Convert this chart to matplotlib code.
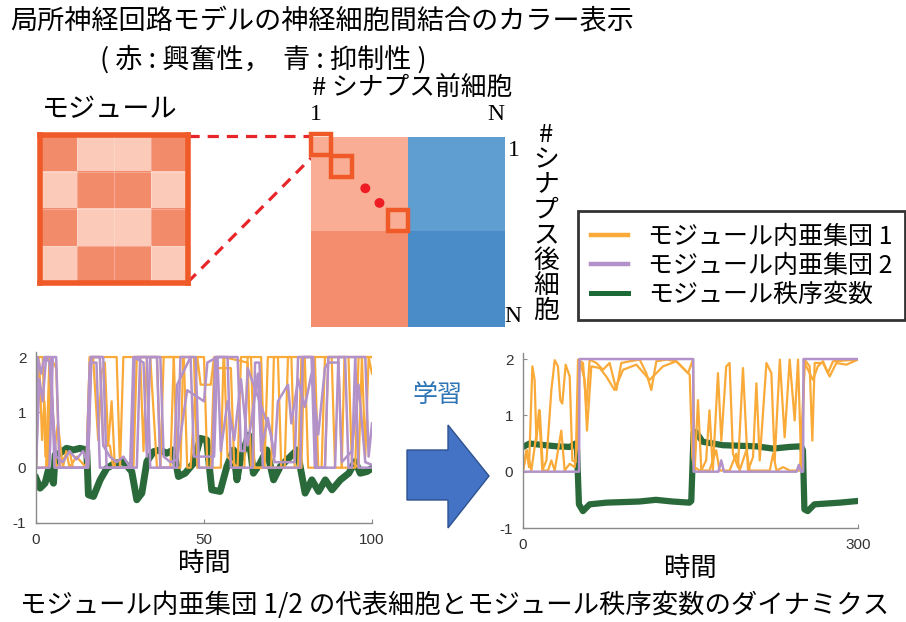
import matplotlib
matplotlib.use("Agg")
import matplotlib.pyplot as plt
from matplotlib.colors import ListedColormap, to_rgb
from matplotlib.lines import Line2D
from matplotlib.patches import Circle, Polygon, Rectangle

plt.rcParams["font.family"] = ["Noto Sans CJK JP", "DejaVu Sans"]
plt.rcParams["axes.unicode_minus"] = False

W, H = 906, 622

# --- connectivity diagram ---------------------------------------------------
module_pattern = [[1, 0, 0, 1],
                  [0, 1, 1, 0],
                  [1, 0, 0, 1],
                  [0, 1, 1, 0]]
module_colors = ["#fccab8", "#f28b6a"]
conn_colors = [["#f9ad95", "#5f9ed0"],
               ["#f48d6d", "#4a8cc7"]]

# --- left panel: before learning (t = 0..100) --------------------------------
l_or1_t = [0, 0.8, 2, 2.8, 3.5, 4.3, 6, 7, 15.5, 16.3, 24, 25, 28.5, 29.3, 41, 42, 43, 43.8, 50, 51,
           55, 55.8, 63, 64, 70, 70.8, 76, 77, 79, 79.8, 88, 89, 91, 91.8, 97, 98, 99, 100]
l_or1_v = [0, 2, 2, 0.2, 0.3, 2, 1.8, 0, 0, 2, 2, 0, 0, 2, 2, 0, 0, 2, 2, 0,
           0, 2, 1.9, 0, 0, 2, 2, 0, 0, 2, 2, 0, 0, 2, 2, 0.2, 2, 1.7]
l_or2_t = [0, 1, 1.8, 2.5, 3.5, 4.5, 5.5, 6.5, 8, 9, 10, 12, 15, 16, 17, 18.5, 19.5, 20.5, 21.5, 22.5,
           23.5, 25, 26, 31, 32, 33, 34, 36, 37, 38, 44, 45, 46, 48, 49, 52, 53, 56, 57, 60,
           61, 64, 65, 68, 69, 72, 73, 78, 79, 83, 84, 86, 87, 93, 94, 96, 97, 100]
l_or2_v = [0, 1.9, 0.5, 1.2, 0, 1.6, 0.3, 0.8, 0, 0.3, 0, 0.2, 0, 2, 2, 0.5, 1.7, 1.9, 0.4, 1.2,
           0, 0, 2, 2, 0.3, 2, 2, 0, 0, 2, 2, 0, 0, 2, 1.5, 1.5, 2, 2, 0.2, 0,
           2, 2, 0, 0, 2, 2, 0, 0, 2, 2, 0, 0, 2, 2, 0.1, 0, 2, 2]
l_or3_t = [0, 3, 4, 5, 6, 10, 11, 15, 16, 19, 20, 22, 23, 29, 30, 36, 37, 40, 41, 47,
           48, 52, 53, 58, 59, 62, 63, 67, 68, 74, 75, 80, 81, 85, 86, 90, 91, 95, 96, 100]
l_or3_v = [0, 0, 2, 1, 0, 0.3, 0, 0, 2, 2, 0.4, 0.4, 0, 0, 2, 2, 0, 0, 2, 2,
           0, 0, 1.8, 1.8, 0, 0, 2, 2, 0, 0, 2, 2, 0, 0, 2, 2, 0, 0, 2, 2]

l_pu1_t = [0, 0.5, 1.5, 2.5, 4.5, 5.5, 15.5, 16.3, 20, 21, 28.5, 29.3, 33, 34, 42, 43, 47.5, 48.5, 52.5, 53.3,
           57, 58, 64.5, 65.2, 66.5, 67.5, 78.6, 79.4, 82.5, 83.5, 86, 87, 92, 93, 94, 95, 98, 99, 100]
l_pu1_v = [0, 2, 1.7, 2, 2, 0, 0, 2, 2, 0, 0, 2, 2, 0, 0, 2, 2, 0, 0, 2,
           2, 0, 0, 1.9, 1.9, 0, 0, 2, 2, 0, 0, 2, 2, 0, 0, 2, 2, 0.2, 0.8]
l_pu2_t = [0, 1, 2, 3, 4, 5, 6, 8, 10, 12, 14, 15.5, 16.5, 19, 20, 22, 24, 26, 28, 29,
           32, 33, 34, 37, 38, 40, 42, 44, 45, 50, 51, 54, 55, 57, 59, 61, 63, 64, 66, 67,
           69, 71, 72, 75, 76, 78, 80, 82, 84, 86, 87, 90, 91, 94, 96, 98, 100]
l_pu2_v = [0, 1.6, 1.2, 2, 1.9, 1, 0.2, 0.1, 0.3, 0.15, 0.3, 0.05, 2, 2, 0.4, 0.2, 0.1, 0.2, 0, 2,
           1.9, 0.2, 2, 2, 0.2, 0.1, 0.15, 1.0, 1.4, 1.2, 1.9, 2, 0.3, 1.2, 0.5, 1.6, 0.4, 0.8, 1.7, 0.3,
           0.9, 0.2, 1.2, 1.5, 0.8, 1.6, 1.1, 1.7, 0.6, 1.8, 1.9, 1.9, 0.1, 0.3, 1.5, 0.1, 0.05]
l_pu3_t = [0, 4, 5, 6, 7, 15, 16, 18, 19, 30, 31, 36, 37, 41, 42, 46, 47, 53, 54, 60,
           61, 62, 63, 70, 71, 77, 78, 82, 83, 89, 90, 95, 96, 100]
l_pu3_v = [0, 0, 2, 2, 0, 0, 1.9, 1.9, 0, 0, 2, 2, 0, 0, 1.5, 2, 0.2, 0.2, 2, 2,
           0.3, 0.3, 1.8, 0.6, 0.1, 0.1, 2, 2, 0, 0, 2, 2, 0, 0]

l_order_t = [0, 1.2, 2.7, 3.7, 5.2, 5.7, 7.1, 9.1, 11.1, 13.1, 15.1, 15.6, 17.1, 19.1, 21.1, 23.5, 26.0, 28.5,
             30.0, 31.5, 33.0, 35.0, 36.9, 38.9, 40.9, 42.4, 44.4, 46.9, 48.9, 50.8, 52.3, 54.8, 56.8,
             58.8, 59.8, 60.8, 63.3, 64.7, 66.7, 68.7, 70.7, 72.7, 75.7, 77.7, 80.1, 82.1, 84.1, 86.1,
             88.1, 90.6, 93.1, 95.0, 96.5, 98.5, 100]
l_order_v = [-0.19, -0.37, -0.28, -0.04, -0.28, 0.23, 0.26, 0.35, 0.32, 0.35, 0.32, -0.49, -0.52, -0.22, -0.01,
             0.08, 0.11, -0.07, -0.58, -0.46, 0.11, 0.29, 0.32, 0.26, 0.32, -0.16, -0.1, 0.08, 0.53, 0.5,
             -0.4, -0.43, 0.02, 0.32, -0.22, 0.14, 0.59, -0.1, 0.08, 0.32, -0.22, 0.02, 0.2, 0.32, -0.46,
             -0.22, -0.43, -0.22, -0.4, -0.22, -0.1, 0.11, -0.1, -0.07, -0.01]

# --- right panel: after learning (t = 0..300) --------------------------------
r_or1_t = [0, 3, 5.4, 8.4, 10.4, 12, 14.3, 17.3, 21, 25.4, 28.4, 31.3, 33.4, 35.2, 38.2, 41.8, 44.2, 47.2,
           49.3, 53.7, 56.7, 59.7, 65.7, 71.6, 77.6, 83.6, 88, 95.5, 104.5, 110.4, 114.9, 119.4, 128.4,
           137.3, 143.3, 149.3, 151.6, 153.7, 156.7, 159.7, 164, 167, 170, 174.6, 177.6, 182, 185, 188,
           192.5, 197, 201.5, 206, 209, 212, 218, 222.4, 225.4, 230, 234.3, 238.8, 243.3, 246.3, 249.3,
           252.2, 256.7, 259.1, 261.2, 268.7, 274.6, 280.6, 289.6, 300]
r_or1_v = [0.02, 0.38, 0.08, 1.87, 1.63, 0.55, 1.09, 0.02, 0.2, 1.45, 1.98, 1.87, 1.27, 1.21, 1.9, 1.69, 0.2,
           0.17, 1.99, 1.93, 1.15, 1.99, 1.93, 1.81, 1.93, 1.45, 1.93, 1.96, 1.99, 1.75, 1.45, 1.96, 1.99,
           1.96, 1.84, 1.72, 0.26, 0.02, 1.27, 0.02, 0.2, 1.09, 0.02, 1.75, 0.55, 1.87, 1.93, 0.32, 0.08,
           1.84, 0.02, 0.26, 1.57, 0.2, 1.93, 1.75, 0.2, 1.99, 0.61, 1.99, 0.91, 1.99, 0.02, 1.99, 1.87,
           0.55, 1.93, 1.93, 1.69, 1.93, 1.9, 1.99]
r_or2_t = [0, 3.6, 7.5, 15, 17.9, 22.4, 25.4, 28.4, 34.3, 37.3, 41.8, 46.3, 48.4, 50.7, 55.2, 57.3, 61.2,
           68.7, 74.6, 82, 89.6, 101.5, 113.4, 125.4, 137.3, 147.8, 152.2, 153.7, 158.2, 167, 173, 176,
           185, 191, 194, 200, 203, 221, 224, 227, 233, 239, 248, 252.2, 256.7, 259.7, 264, 268.7, 273,
           277.6, 300]
r_or2_v = [0.02, 0.38, 0.02, 1.09, 0.02, 0.02, 0.2, 0.02, 0.73, 0.02, 0.14, 0.08, 0.44, 1.99, 1.63, 0.73,
           1.87, 1.84, 1.69, 1.45, 1.81, 1.9, 1.63, 1.87, 1.96, 1.75, 1.99, 0.08, 0.02, 0.02, 0.38, 0.02,
           0.02, 0.32, 0.02, 0.38, 0.02, 0.02, 0.32, 0.02, 0.08, 0.02, 0.02, 1.93, 1.75, 1.63, 1.87, 1.96,
           1.75, 1.96, 1.99]
r_pu_t = [0, 50.2, 50.6, 152.4, 152.8, 175, 177.5, 180, 245, 247, 249, 250.8, 251.2, 300]
r_pu_v = [0, 0, 2, 2, 0, 0, 0.2, 0, 0, 0.12, 0, 0, 2, 2]
r_order_t = [0, 6, 15, 30, 42, 47, 48.4, 50.1, 53.7, 59.7, 74.6, 104, 119, 134, 149, 150.7, 152.8, 155,
             161, 179, 209, 224, 239, 249, 250.7, 252, 255, 261, 283.6, 300]
r_order_v = [0.44, 0.5, 0.48, 0.45, 0.44, 0.5, 0.38, -0.58, -0.7, -0.58, -0.55, -0.53, -0.5, -0.53, -0.55,
             -0.52, 0.7, 0.7, 0.53, 0.47, 0.45, 0.41, 0.44, 0.45, 0.38, -0.67, -0.7, -0.58, -0.55, -0.52]

legend_labels = ["モジュール内亜集団 1", "モジュール内亜集団 2", "モジュール秩序変数"]
ORANGE, PURPLE, GREEN = "#f9aa38", "#b292c9", "#2a6a3a"
ACCENT = "#f05a28"


def px_rect(x0, y0, x1, y1):
    return [x0 / W, 1 - y1 / H, (x1 - x0) / W, (y1 - y0) / H]


def style_ts(ax, xmax, xticks):
    ax.set_xlim(0, xmax)
    ax.set_ylim(-1, 2.1)
    ax.set_xticks(xticks)
    ax.set_yticks([-1, 0, 1, 2])
    for side in ("top", "right"):
        ax.spines[side].set_visible(False)
    for side in ("left", "bottom"):
        ax.spines[side].set_color("#8a8a8a")
        ax.spines[side].set_linewidth(1.0)
    ax.tick_params(direction="in", length=3, width=0.8, color="#8a8a8a",
                   labelsize=11, labelcolor="#333333", pad=7)
    for lab in ax.get_xticklabels() + ax.get_yticklabels():
        lab.set_fontfamily("Liberation Sans")
    ax.set_xlabel("時間", fontsize=19, labelpad=2)


fig = plt.figure(figsize=(W / 100, H / 100), dpi=100)

# overlay in pixel coordinates for the annotations
ov = fig.add_axes([0, 0, 1, 1], zorder=0)
ov.set_xlim(0, W)
ov.set_ylim(H, 0)
ov.axis("off")

ov.text(10, 22, "局所神経回路モデルの神経細胞間結合のカラー表示", fontsize=19.5, va="center", ha="left")
ov.text(100, 59, "( 赤 : 興奮性，  青 : 抑制性 )", fontsize=19.5, va="center", ha="left")
ov.text(110, 110, "モジュール", fontsize=19.5, va="center", ha="center")
ov.text(412, 88, "# シナプス前細胞", fontsize=18.5, va="center", ha="center")
ov.text(316, 115, "1", fontsize=17, family="Liberation Serif", va="center", ha="center")
ov.text(496, 115, "N", fontsize=17, family="Liberation Serif", va="center", ha="center")
ov.text(514, 150, "1", fontsize=17, family="Liberation Serif", va="center", ha="center")
ov.text(513, 316, "N", fontsize=17, family="Liberation Serif", va="center", ha="center")
ov.text(546, 223, "\n".join("#シナプス後細胞"), fontsize=18.5, va="center", ha="center", linespacing=0.96)

# red dashed zoom lines
ov.plot([188, 311], [136, 136], color="#e8262a", lw=2.3, ls=(0, (3.5, 2.5)))
ov.plot([188, 311], [282, 158], color="#e8262a", lw=2.3, ls=(0, (3.5, 2.5)))

# learning arrow
ov.add_patch(Polygon([(407, 450), (448, 450), (448, 425), (489, 476), (448, 528), (448, 500), (407, 500)],
                     closed=True, facecolor="#4472c4", edgecolor="#2f528f", lw=1))
ov.text(437, 395, "学習", fontsize=18, color="#2e75b6", va="center", ha="center")
ov.text(455, 605, "モジュール内亜集団 1/2 の代表細胞とモジュール秩序変数のダイナミクス",
        fontsize=19, va="center", ha="center")

# module matrix
axm = fig.add_axes(px_rect(40, 135, 188, 283))
axm.imshow(module_pattern, cmap=ListedColormap(module_colors), aspect="auto", interpolation="nearest")
axm.set_xticks([0.5, 1.5, 2.5], minor=True)
axm.set_yticks([0.5, 1.5, 2.5], minor=True)
axm.grid(which="minor", color="white", alpha=0.25, lw=0.8)
axm.tick_params(which="both", length=0, labelbottom=False, labelleft=False)
axm.set_xticks([])
axm.set_yticks([])
for sp in axm.spines.values():
    sp.set_color(ACCENT)
    sp.set_linewidth(4)

# connectivity matrix
axc = fig.add_axes(px_rect(311, 137, 505, 327))
axc.imshow([[to_rgb(c) for c in row] for row in conn_colors], aspect="auto",
           extent=(0, 1, 1, 0), interpolation="nearest")
axc.set_xlim(0, 1)
axc.set_ylim(1, 0)
axc.axis("off")
for x0, y0 in [(0.0, -0.015), (0.105, 0.1), (0.395, 0.385)]:
    axc.add_patch(Rectangle((x0, y0), 0.105, 0.11, fill=False, edgecolor=ACCENT, lw=3.2, clip_on=False))
for cx, cy in [(0.28, 0.27), (0.353, 0.347)]:
    axc.add_patch(Circle((cx, cy), 0.022, color="#ee1c24", clip_on=False))

# time series: before learning
axl = fig.add_axes(px_rect(36, 351.5, 372, 523))
axl.plot(l_order_t, l_order_v, color=GREEN, lw=5, solid_joinstyle="round")
for t, v in [(l_or1_t, l_or1_v), (l_or2_t, l_or2_v), (l_or3_t, l_or3_v)]:
    axl.plot(t, v, color=ORANGE, lw=1.6)
for t, v in [(l_pu1_t, l_pu1_v), (l_pu2_t, l_pu2_v), (l_pu3_t, l_pu3_v)]:
    axl.plot(t, v, color=PURPLE, lw=1.8)
style_ts(axl, 100, [0, 50, 100])

# time series: after learning
axr = fig.add_axes(px_rect(523, 353.4, 858, 528))
axr.plot(r_order_t, r_order_v, color=GREEN, lw=4.5, solid_joinstyle="round")
for t, v in [(r_or1_t, r_or1_v), (r_or2_t, r_or2_v)]:
    axr.plot(t, v, color=ORANGE, lw=1.6)
axr.plot(r_pu_t, r_pu_v, color=PURPLE, lw=1.8)
style_ts(axr, 300, [0, 300])

handles = [Line2D([], [], color=ORANGE, lw=3.2),
           Line2D([], [], color=PURPLE, lw=3.2),
           Line2D([], [], color="#1c6b36", lw=3.6)]
leg = fig.legend(handles, legend_labels, loc="upper left", bbox_to_anchor=(578 / W, 1 - 211 / H),
                 fontsize=18, frameon=True, fancybox=False, handlelength=1.5, handletextpad=0.8,
                 labelspacing=0.12, borderpad=0.5, borderaxespad=0)
leg.get_frame().set_edgecolor("black")
leg.get_frame().set_linewidth(2)

fig.savefig("out.png", dpi=100)
